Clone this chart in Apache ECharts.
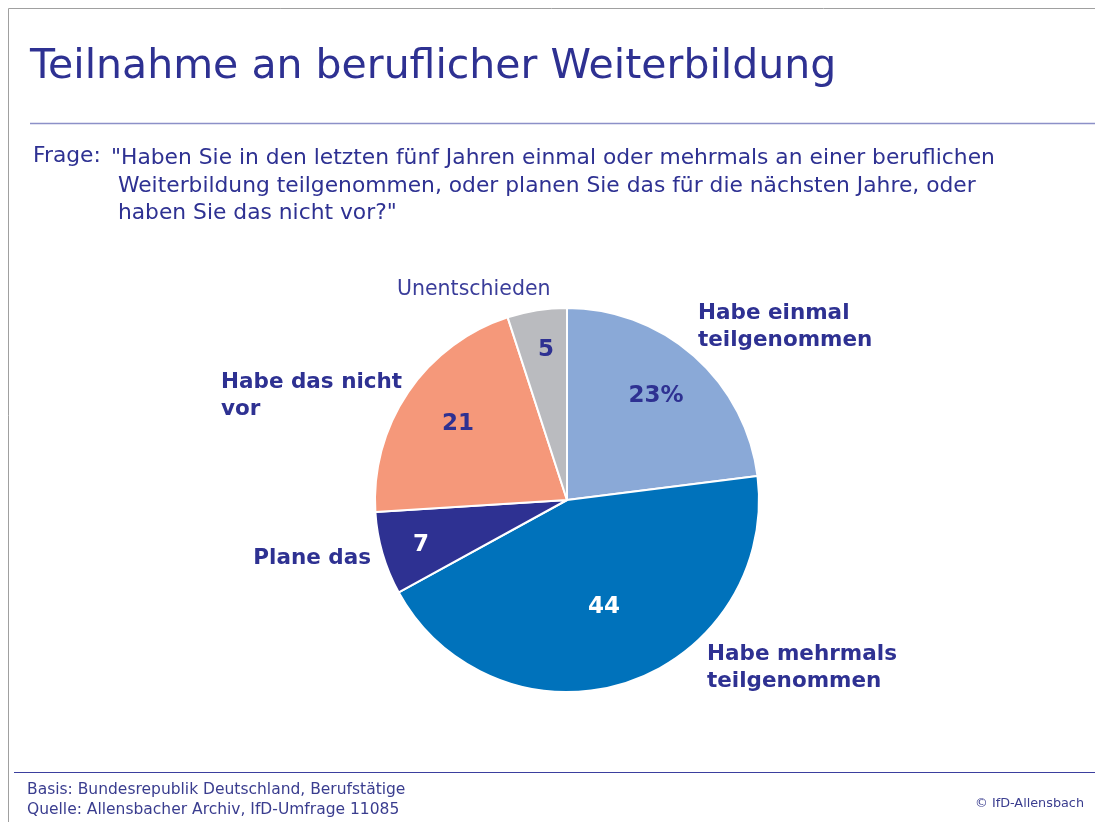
<!DOCTYPE html>
<html>
<head>
<meta charset="utf-8">
<script src="https://cdn.jsdelivr.net/npm/echarts@6/dist/echarts.min.js"></script>
<style>
  html, body { margin: 0; padding: 0; background: #fff; }
  #chart { width: 1095px; height: 822px; }
</style>
</head>
<body>
<div id="chart"></div>
<script>
// Werte aus der Grafik (Prozent)
const categories = ['Habe einmal\nteilgenommen', 'Habe mehrmals\nteilgenommen', 'Plane das', 'Habe das nicht\nvor', 'Unentschieden'];
const values = [23, 44, 7, 21, 5];
const valueLabels = ['23%', '44', '7', '21', '5'];
const colors = ['#8aa9d7', '#0072bb', '#2e3192', '#f5987a', '#babbbf'];
const valueColors = ['#2e3192', '#ffffff', '#ffffff', '#2e3192', '#2e3192'];

const navy = '#2e3192';
const font = 'DejaVu Sans';

// Positionen der Beschriftungen
const innerPos = [[656, 396], [604, 607], [421, 545], [458, 424], [546, 350]];
const outerPos = [
  { x: 698, y: 327, align: 'left' },
  { x: 707, y: 668, align: 'left' },
  { x: 371, y: 558, align: 'right' },
  { x: 221, y: 396, align: 'left' },
  { x: 397, y: 290, align: 'left' }
];

const chart = echarts.init(document.getElementById('chart'));

const pieData = values.map((v, i) => ({
  name: categories[i],
  value: v,
  itemStyle: { color: colors[i] }
}));

const option = {
  animation: false,
  graphic: [
    // Rahmen
    { type: 'line', shape: { x1: 8.5, y1: 8.5, x2: 1095, y2: 8.5 }, style: { stroke: '#a0a0a0', lineWidth: 1 } },
    { type: 'line', shape: { x1: 8.5, y1: 8.5, x2: 8.5, y2: 822 }, style: { stroke: '#a0a0a0', lineWidth: 1 } },
    { type: 'text', left: 30, top: 47, style: { text: 'Teilnahme an beruflicher Weiterbildung', fill: navy, font: '41px "' + font + '"' } },
    { type: 'line', shape: { x1: 30, y1: 123.5, x2: 1095, y2: 123.5 }, style: { stroke: '#8c90c8', lineWidth: 1.5 } },
    { type: 'text', left: 33, top: 145, style: { text: 'Frage:', fill: navy, font: '21.8px "' + font + '"' } },
    { type: 'text', left: 111, top: 145, style: {
      text: '"Haben Sie in den letzten fünf Jahren einmal oder mehrmals an einer beruflichen\n Weiterbildung teilgenommen, oder planen Sie das für die nächsten Jahre, oder\n haben Sie das nicht vor?"',
      fill: navy, font: '21.8px "' + font + '"', lineHeight: 27.5 } },
    { type: 'line', shape: { x1: 14, y1: 772.5, x2: 1095, y2: 772.5 }, style: { stroke: '#3b3f9e', lineWidth: 1.2 } },
    { type: 'text', left: 27, top: 780, style: {
      text: 'Basis: Bundesrepublik Deutschland, Berufstätige\nQuelle: Allensbacher Archiv, IfD-Umfrage 11085',
      fill: '#3a3d8f', font: '15.5px "' + font + '"', lineHeight: 20 } },
    { type: 'text', right: 11, top: 797, style: { text: '© IfD-Allensbach', fill: '#3a3d8f', font: '12.8px "' + font + '"' } }
  ],
  series: [
    {
      type: 'pie',
      center: [567, 500],
      radius: [0, 192],
      startAngle: 90,
      clockwise: true,
      silent: true,
      itemStyle: { borderColor: '#fff', borderWidth: 2 },
      label: {
        position: 'inside',
        fontFamily: font,
        fontWeight: 'bold',
        fontSize: 23,
        formatter: p => valueLabels[p.dataIndex],
        color: '#2e3192'
      },
      labelLine: { show: false },
      labelLayout: p => ({ x: innerPos[p.dataIndex][0], y: innerPos[p.dataIndex][1], align: 'center', verticalAlign: 'middle' }),
      data: pieData.map((d, i) => ({ ...d, label: { color: valueColors[i] } }))
    },
    {
      type: 'pie',
      center: [567, 500],
      radius: [0, 192],
      startAngle: 90,
      clockwise: true,
      silent: true,
      itemStyle: { color: 'transparent', borderWidth: 0 },
      label: {
        position: 'outside',
        fontFamily: font,
        fontWeight: 'bold',
        fontSize: 21.5,
        lineHeight: 27,
        color: navy,
        formatter: p => p.name
      },
      labelLine: { show: false },
      labelLayout: p => ({ x: outerPos[p.dataIndex].x, y: outerPos[p.dataIndex].y, align: outerPos[p.dataIndex].align, verticalAlign: 'middle' }),
      data: values.map((v, i) => ({
        name: categories[i],
        value: v,
        itemStyle: { color: 'transparent' },
        label: i === 4 ? { fontWeight: 'normal', fontSize: 20.5, color: '#3a3d9a' } : {}
      }))
    }
  ]
};

chart.setOption(option);
window.onresize = function () {
  chart.resize();
};
</script>
</body>
</html>
